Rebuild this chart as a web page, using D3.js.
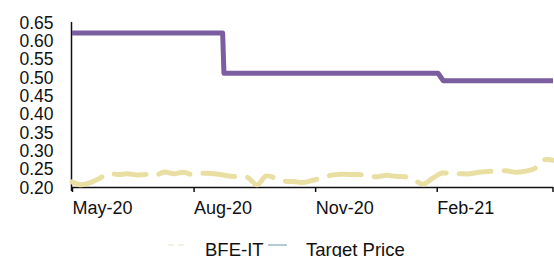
<!DOCTYPE html>
<html><head><meta charset="utf-8">
<script src="https://cdn.jsdelivr.net/npm/d3@7"></script>
<style>
html,body{margin:0;padding:0;background:#fff;}
svg{display:block;font-family:"Liberation Sans",Arial,sans-serif;}
</style></head>
<body>
<svg id="chart" width="554" height="257"></svg>
<script>
// Weekly estimated closing prices of BFE-IT, starting 2020-05-01
const priceStart = "2020-05-01";
const priceValues = [
 0.214,0.206,0.212,0.224,0.236,0.234,0.236,0.233,0.234,0.232,
 0.241,0.236,0.240,0.234,0.237,0.237,0.234,0.230,0.228,0.226,
 0.206,0.230,0.224,0.216,0.215,0.212,0.218,0.225,0.232,0.235,
 0.234,0.234,0.230,0.228,0.232,0.229,0.228,0.218,0.208,0.224,
 0.238,0.236,0.236,0.236,0.240,0.242,0.244,0.244,0.240,0.243,
 0.250,0.274,0.273
];
// Target price changes
const targetDates = ["2020-05-01","2020-08-23","2020-08-24","2021-02-02","2021-02-06","2021-04-30"];
const targetValues = [0.62,0.62,0.51,0.51,0.49,0.49];
const yTicks = [0.20,0.25,0.30,0.35,0.40,0.45,0.50,0.55,0.60,0.65];
const xTickDates = ["2020-05-01","2020-08-01","2020-11-01","2021-02-01"];
const xTickLabels = ["May-20","Aug-20","Nov-20","Feb-21"];
const seriesNames = ["BFE-IT","Target Price"];

const parse = d3.utcParse("%Y-%m-%d");
const start = parse(priceStart);
const priceData = priceValues.map((v,i)=>({d:d3.utcDay.offset(start,7*i),v}));
const targetData = targetDates.map((d,i)=>({d:parse(d),v:targetValues[i]}));

const svg = d3.select("#chart");
const x = d3.scaleUtc().domain([parse("2020-05-01"),parse("2021-04-30")]).range([72,553]);
const y = d3.scaleLinear().domain([0.20,0.65]).range([187,22]);

// axes
const yAxis = d3.axisLeft(y).tickValues(yTicks).tickFormat(d3.format(".2f")).tickSize(0).tickPadding(18);
const gy = svg.append("g").attr("transform","translate(71.5,0)").call(yAxis);
gy.select(".domain").remove();
gy.selectAll("text").attr("font-size",17.5).attr("fill","#111").attr("dy","0.36em");
svg.append("line").attr("x1",71.5).attr("x2",71.5).attr("y1",22).attr("y2",191).attr("stroke","#111").attr("stroke-width",1.5);

const xAxis = d3.axisBottom(x).tickValues(xTickDates.map(parse)).tickFormat((d,i)=>xTickLabels[i]).tickSize(5).tickSizeOuter(0);
const gx = svg.append("g").attr("transform","translate(0,187)").call(xAxis);
gx.select(".domain").attr("d","M71.5,0.5H553").attr("stroke","#111").attr("stroke-width",1.5);
gx.selectAll(".tick line").attr("stroke","#111").attr("stroke-width",1.5);
gx.selectAll(".tick text").attr("font-size",18).attr("fill","#111").attr("text-anchor","start").attr("x",0).attr("y",14).attr("dy","0.71em");
svg.append("line").attr("x1",553).attr("x2",553).attr("y1",187).attr("y2",192).attr("stroke","#111").attr("stroke-width",1.5);

// target price line
const tl = d3.line().x(d=>x(d.d)).y(d=>y(d.v));
svg.append("path").datum(targetData).attr("d",tl).attr("fill","none")
  .attr("stroke","#7b5e9f").attr("stroke-width",5).attr("stroke-linejoin","round");

// price line
const pl = d3.line().x(d=>x(d.d)).y(d=>y(d.v)).curve(d3.curveCatmullRom);
svg.append("path").datum(priceData).attr("d",pl).attr("fill","none")
  .attr("stroke","#e9dfa3").attr("stroke-width",5).attr("stroke-linecap","round")
  .attr("stroke-linejoin","round").attr("stroke-dasharray","32,13");

// legend
const lg = svg.append("g");
lg.append("line").attr("x1",168).attr("x2",188).attr("y1",245).attr("y2",245)
  .attr("stroke","#ece5c6").attr("stroke-width",1).attr("stroke-dasharray","6,4");
lg.append("text").attr("x",205).attr("y",256).attr("font-size",18.5).attr("fill","#111").text(seriesNames[0]);
lg.append("line").attr("x1",268).attr("x2",287).attr("y1",245).attr("y2",245)
  .attr("stroke","#7fa9b9").attr("stroke-width",1.2);
lg.append("text").attr("x",306).attr("y",256).attr("font-size",18.5).attr("fill","#111").text(seriesNames[1]);
</script>
</body></html>
